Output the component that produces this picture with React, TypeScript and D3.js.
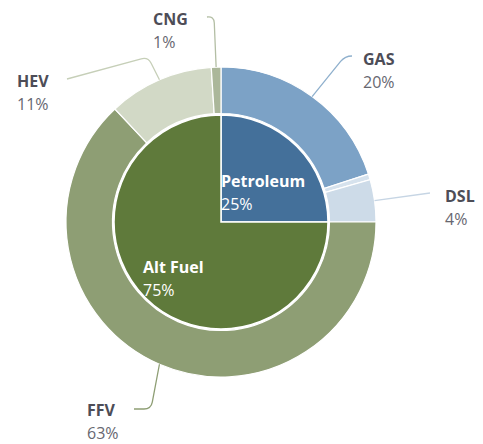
import React from 'react';
import * as d3 from 'd3';

const innerCategories = ["Petroleum", "Alt Fuel"];
const innerValues = [25, 75];
const innerLabels = ["25%", "75%"];

const outerCategories = ["GAS", "Other", "DSL", "FFV", "HEV", "CNG"];
const outerValues = [20, 0.6, 4.4, 63, 11, 1];
const outerLabels = ["20%", "", "4%", "63%", "11%", "1%"];

const innerColors: Record<string, string> = {
  "Petroleum": "#44709a",
  "Alt Fuel": "#5f7a3b",
};
const outerColors: Record<string, string> = {
  "GAS": "#7ca2c6",
  "Other": "#d6e2ed",
  "DSL": "#cddbe8",
  "FFV": "#8e9e74",
  "HEV": "#d2d9c6",
  "CNG": "#abb79a",
};
const lineColors: Record<string, string> = {
  "GAS": "#8fb0cd",
  "DSL": "#c6d5e4",
  "FFV": "#8e9e74",
  "HEV": "#c6cfb8",
  "CNG": "#b3bea4",
};

// leader line corner / end and text anchor for each outer label (layout only)
const outerLayout: Record<string, {corner: [number, number], end: [number, number], tx: number, ty: number}> = {
  "GAS": {corner: [345, 56], end: [352, 56], tx: 363, ty: 65},
  "DSL": {corner: [430, 193], end: [430, 193], tx: 445, ty: 202},
  "FFV": {corner: [151, 409], end: [134, 409], tx: 87, ty: 416},
  "HEV": {corner: [148, 57], end: [67, 79], tx: 17, ty: 87},
  "CNG": {corner: [214, 16], end: [207, 17], tx: 153, ty: 25},
};

const innerLayout: Record<string, {tx: number, ty: number}> = {
  "Petroleum": {tx: 221, ty: 187},
  "Alt Fuel": {tx: 143, ty: 273},
};

const App: React.FC = () => {
  const width = 483;
  const height = 444;
  const cx = 221;
  const cy = 222;
  const pieRadius = 107;
  const ringInner = 108.5;
  const ringOuter = 155;
  const font = "'Open Sans', 'DejaVu Sans', sans-serif";

  const pie = d3.pie<number>().sort(null).value(d => d);
  const innerArcs = pie(innerValues);
  const outerArcs = pie(outerValues);

  const innerArc = d3.arc<d3.PieArcDatum<number>>().innerRadius(0).outerRadius(pieRadius);
  const outerArc = d3.arc<d3.PieArcDatum<number>>().innerRadius(ringInner).outerRadius(ringOuter);

  const leader = (a: d3.PieArcDatum<number>, name: string) => {
    const mid = (a.startAngle + a.endAngle) / 2;
    const sx = cx + ringOuter * Math.sin(mid);
    const sy = cy - ringOuter * Math.cos(mid);
    const {corner, end} = outerLayout[name];
    const [kx, ky] = corner;
    const [ex, ey] = end;
    const rr = 7;
    const d1 = Math.hypot(sx - kx, sy - ky) || 1;
    const d2 = Math.hypot(ex - kx, ey - ky);
    if (d2 < 0.5) return `M${sx},${sy}L${ex},${ey}`;
    const ax = kx + (sx - kx) * Math.min(rr, d1) / d1;
    const ay = ky + (sy - ky) * Math.min(rr, d1) / d1;
    const bx = kx + (ex - kx) * Math.min(rr, d2) / d2;
    const by = ky + (ey - ky) * Math.min(rr, d2) / d2;
    return `M${sx},${sy}L${ax},${ay}Q${kx},${ky} ${bx},${by}L${ex},${ey}`;
  };

  return (
    <svg width={width} height={height} style={{position: "absolute", left: 0, top: 0, background: "#fff"}}>
      <g transform={`translate(${cx}, ${cy})`}>
        {outerArcs.map((a, i) => (
          <path key={outerCategories[i]} d={outerArc(a) || ""} fill={outerColors[outerCategories[i]]} stroke="#fff" strokeWidth={1.2}/>
        ))}
        {innerArcs.map((a, i) => (
          <path key={innerCategories[i]} d={innerArc(a) || ""} fill={innerColors[innerCategories[i]]} stroke="#fff" strokeWidth={1.5}/>
        ))}
      </g>
      {outerArcs.map((a, i) => {
        const name = outerCategories[i];
        if (!outerLayout[name]) return null;
        return <path key={"l" + name} d={leader(a, name)} fill="none" stroke={lineColors[name]} strokeWidth={1.3}/>;
      })}
      {outerCategories.map((name, i) => {
        const lay = outerLayout[name];
        if (!lay) return null;
        return (
          <g key={"t" + name} fontFamily={font}>
            <text x={lay.tx} y={lay.ty} fontSize={16} fontWeight="bold" fill="#4d4d57">{name}</text>
            <text x={lay.tx} y={lay.ty + 23} fontSize={16} fill="#676770">{outerLabels[i]}</text>
          </g>
        );
      })}
      {innerCategories.map((name, i) => {
        const lay = innerLayout[name];
        return (
          <g key={"i" + name} fontFamily={font} fill="#fff">
            <text x={lay.tx} y={lay.ty} fontSize={16} fontWeight="bold">{name}</text>
            <text x={lay.tx} y={lay.ty + 23} fontSize={16}>{innerLabels[i]}</text>
          </g>
        );
      })}
    </svg>
  );
};

export default App;
